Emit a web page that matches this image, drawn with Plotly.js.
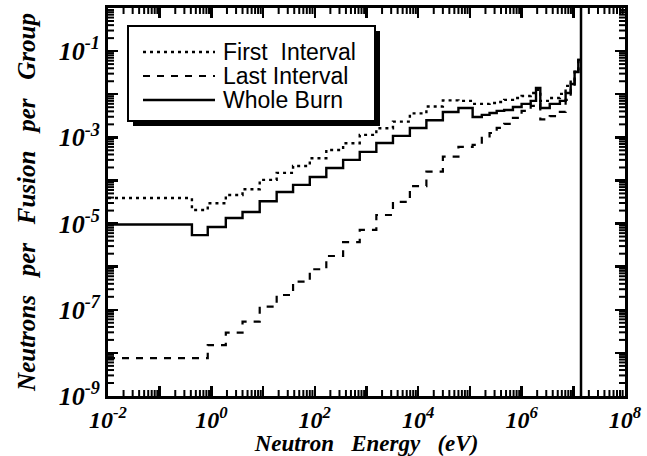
<!DOCTYPE html>
<html>
<head>
<meta charset="utf-8">
<script src="https://cdn.plot.ly/plotly-3.0.1.min.js"></script>
<style>html,body{margin:0;padding:0;background:#fff;}#chart{width:647px;height:456px;}</style>
</head>
<body>
<div id="chart"></div>
<script>
// Group boundaries (eV)
const energyEdges = [0.01, 0.42, 0.85, 1.9, 4.0, 8.6, 18.3, 38, 80, 167, 353, 740, 1550, 3250, 6900,
  1.44e4, 3.0e4, 6.0e4, 1.13e5, 1.7e5, 2.4e5, 3.3e5, 4.6e5, 6.8e5, 1.0e6, 1.5e6, 1.9e6, 2.3e6,
  3.5e6, 5.5e6, 7.1e6, 8.9e6, 1.06e7, 1.25e7, 1.41e7];

// Neutrons per fusion per group
const firstInterval = [3.9e-5, 2.07e-5, 2.96e-5, 4.6e-5, 6.25e-5, 1.03e-4, 1.5e-4, 2.17e-4, 3.27e-4, 5.1e-4,
  7.3e-4, 1.14e-3, 1.63e-3, 2.31e-3, 3.6e-3, 5.2e-3, 7.2e-3, 7.0e-3, 5.96e-3, 5.96e-3,
  6.28e-3, 6.6e-3, 7.4e-3, 8.2e-3, 9.1e-3, 1.07e-2, 1.26e-2, 7.0e-3, 8.2e-3, 1.02e-2,
  1.56e-2, 2.2e-2, 3.6e-2, 6.5e-2];
const lastInterval = [7.6e-9, 7.6e-9, 1.52e-8, 2.94e-8, 5.3e-8, 1.18e-7, 2.2e-7, 4.5e-7, 8.7e-7, 1.77e-6,
  3.7e-6, 7.1e-6, 1.58e-5, 3.2e-5, 7.4e-5, 1.6e-4, 3.56e-4, 6.0e-4, 6.7e-4, 9.7e-4,
  1.26e-3, 1.65e-3, 2.06e-3, 2.82e-3, 4.1e-3, 5.36e-3, 5.96e-3, 2.6e-3, 3.1e-3, 3.9e-3,
  7.4e-3, 1.56e-2, 3.3e-2, 6.25e-2];
const wholeBurn = [9.5e-6, 5.4e-6, 8.3e-6, 1.35e-5, 1.86e-5, 3.3e-5, 5.4e-5, 7.9e-5, 1.2e-4, 1.95e-4,
  3.0e-4, 4.6e-4, 7.4e-4, 1.08e-3, 1.65e-3, 2.5e-3, 3.88e-3, 4.81e-3, 2.97e-3, 3.31e-3,
  3.68e-3, 4.1e-3, 4.32e-3, 5.07e-3, 5.96e-3, 7.0e-3, 1.40e-2, 4.81e-3, 5.96e-3, 7.0e-3,
  1.07e-2, 1.73e-2, 3.29e-2, 6.25e-2];

const seriesNames = ['First\u00a0\u00a0Interval', 'Last Interval', 'Whole Burn'];
const dtEnergy = 1.41e7; // 14.1 MeV fusion line

// Labelled ticks
const xTickVals = [1e-2, 1e0, 1e2, 1e4, 1e6, 1e8];
const xTickText = ['10<sup>-2</sup>', '10<sup>0</sup>', '10<sup>2</sup>', '10<sup>4</sup>', '10<sup>6</sup>', '10<sup>8</sup>'];
const yTickVals = [1e-9, 1e-7, 1e-5, 1e-3, 1e-1];
const yTickText = ['10<sup>-9</sup>', '10<sup>-7</sup>', '10<sup>-5</sup>', '10<sup>-3</sup>', '10<sup>-1</sup>'];
// Unlabelled major ticks
const xOddDecades = [1e-1, 1e1, 1e3, 1e5, 1e7];
const yEvenDecades = [1e-8, 1e-6, 1e-4, 1e-2, 1e0];

// minor tick positions (2..9 within each decade) — axis decoration only
function minorTicks(lo, hi) {
  const out = [];
  for (let e = lo; e < hi; e++) for (let m = 2; m <= 9; m++) out.push(m * Math.pow(10, e));
  return out;
}
function stepY(v) { return v.concat([v[v.length - 1]]); }

const lineStyles = [
  {dash: '3px,4px', width: 2.4},
  {dash: '7px,7px', width: 2.2},
  {dash: 'solid', width: 2.4}
];
const series = [firstInterval, lastInterval, wholeBurn];

const traces = series.map((s, i) => ({
  x: energyEdges, y: stepY(s), type: 'scatter', mode: 'lines', name: seriesNames[i],
  line: {shape: 'hv', color: '#000', dash: lineStyles[i].dash, width: lineStyles[i].width},
  showlegend: false, hoverinfo: 'skip'
}));
traces.push({x: [], y: [], type: 'scatter', mode: 'lines', xaxis: 'x2', yaxis: 'y2', showlegend: false, hoverinfo: 'skip'});

const L = 108, R = 22, T = 8, B = 60, W = 647, H = 456;
const pw = W - L - R, ph = H - T - B;
const px = x => (x - L) / pw;
const py = y => (H - B - y) / ph;

const serif = {family: 'Liberation Serif, Times New Roman, serif', color: '#000', weight: 'bold', style: 'italic'};
const sans = {family: 'Liberation Sans, Arial, sans-serif', color: '#000', size: 23};

const shapes = [
  {type: 'line', xref: 'x', yref: 'paper', x0: dtEnergy, x1: dtEnergy, y0: 0, y1: 1,
   line: {color: '#000', width: 2.5}},
  {type: 'rect', xref: 'paper', yref: 'paper', x0: px(133), x1: px(380), y0: py(126), y1: py(31),
   fillcolor: '#000', line: {width: 0}},
  {type: 'rect', xref: 'paper', yref: 'paper', x0: px(128), x1: px(375), y0: py(121), y1: py(26),
   fillcolor: '#fff', line: {color: '#000', width: 2}}
];
// minor ticks on all four sides (inside)
const mLen = 6, mStyle = {color: '#000', width: 2};
minorTicks(-2, 8).forEach(v => {
  shapes.push({type: 'line', xref: 'x', yref: 'paper', x0: v, x1: v, y0: 0, y1: mLen / ph, line: mStyle});
  shapes.push({type: 'line', xref: 'x', yref: 'paper', x0: v, x1: v, y0: 1, y1: 1 - mLen / ph, line: mStyle});
});
minorTicks(-9, 0).forEach(v => {
  shapes.push({type: 'line', xref: 'paper', yref: 'y', x0: 0, x1: mLen / pw, y0: v, y1: v, line: mStyle});
  shapes.push({type: 'line', xref: 'paper', yref: 'y', x0: 1, x1: 1 - mLen / pw, y0: v, y1: v, line: mStyle});
});

const rowY = [52, 76, 100];
const annotations = [];
rowY.forEach((yy, i) => {
  shapes.push({type: 'line', xref: 'paper', yref: 'paper', x0: px(143), x1: px(215), y0: py(yy), y1: py(yy),
    line: {color: '#000', dash: lineStyles[i].dash, width: lineStyles[i].width}});
  annotations.push({xref: 'paper', yref: 'paper', x: px(221), y: py(yy), xanchor: 'left', yanchor: 'middle',
    text: seriesNames[i], showarrow: false, font: sans});
});

const baseAxis = {
  type: 'log', ticks: 'inside', tickcolor: '#000', tickmode: 'array',
  showline: true, linewidth: 3, linecolor: '#000', mirror: 'allticks', showgrid: false, zeroline: false
};
const labelAxis = Object.assign({}, baseAxis, {ticklen: 10, tickwidth: 2.5, tickangle: 0});
const plainMajor = Object.assign({}, baseAxis, {ticklen: 10, tickwidth: 2.5, showticklabels: false});

const layout = {
  width: W, height: H, margin: {l: L, r: R, t: T, b: B}, paper_bgcolor: '#fff', plot_bgcolor: 'rgba(0,0,0,0)',
  xaxis: Object.assign({}, labelAxis, {
    range: [-2, 8], tickvals: xTickVals, ticktext: xTickText,
    tickfont: Object.assign({size: 24}, serif),
    title: {text: 'Neutron\u00a0\u00a0 Energy\u00a0\u00a0 (eV)', font: Object.assign({size: 23}, serif), standoff: 0}
  }),
  yaxis: Object.assign({}, labelAxis, {
    range: [-9, 0], tickvals: yTickVals, ticktext: yTickText,
    tickfont: Object.assign({size: 26}, serif),
    title: {text: 'Neutrons\u00a0\u00a0 per\u00a0\u00a0 Fusion\u00a0\u00a0 per\u00a0\u00a0 Group', font: Object.assign({size: 25}, serif), standoff: 16}
  }),
  xaxis2: Object.assign({}, plainMajor, {range: [-2, 8], tickvals: xOddDecades, overlaying: 'x', anchor: 'y2', side: 'bottom'}),
  yaxis2: Object.assign({}, plainMajor, {range: [-9, 0], tickvals: yEvenDecades, overlaying: 'y', anchor: 'x2', side: 'left'}),
  shapes: shapes, annotations: annotations, showlegend: false
};

Plotly.newPlot('chart', traces, layout, {displayModeBar: false, staticPlot: true});
</script>
</body>
</html>
